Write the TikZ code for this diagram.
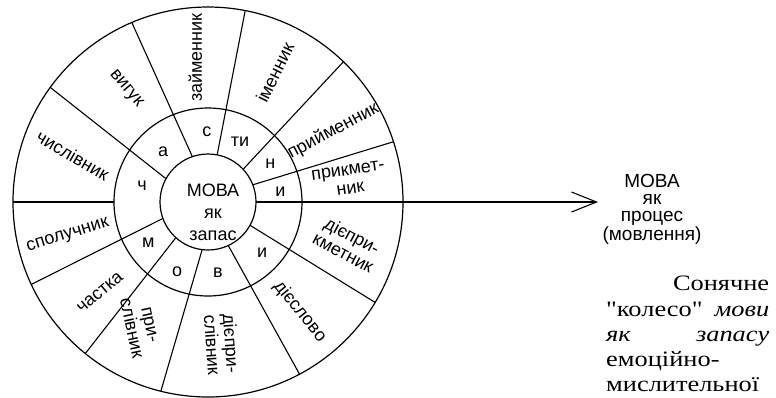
\documentclass[tikz,border=0pt]{standalone}
\usepackage{fontspec}
\setmainfont{Liberation Serif}
\newfontfamily\wheelfont{Liberation Sans}
\newfontfamily\capfont[FakeStretch=1.2]{Liberation Serif}
\usetikzlibrary{arrows.meta}
\begin{document}
\begin{tikzpicture}[x=1pt,y=1pt,
  ringline/.style={draw, circle, line width=1.2pt, inner sep=0pt, outer sep=0pt},
  spoke/.style={line width=1.1pt},
  part/.style={font=\wheelfont\fontsize{18}{19}\selectfont, inner sep=0pt, align=center},
  letter/.style={font=\wheelfont\fontsize{18}{18}\selectfont, inner sep=0pt},
  ]
\useasboundingbox (0,0) rectangle (776,-397);
\node[ringline, minimum size=390pt] (wheel) at (208,-202) {};
\node[ringline, minimum size=188pt] (mid) at (208,-202) {};
\node[ringline, minimum size=96pt] (core) at (208,-202) {};
% spokes
\foreach \a/\b in {21/18, 43/46.5, 79/79, 109/113.4, 151/144, 200.7/205.6, 228/231.5, 263/256.5, 295/298, 331/329.4}
  \draw[spoke] (core.\a) -- (wheel.\b);
\draw[spoke] (mid.180) -- (wheel.180);
\coordinate (tip) at (598,-202);
\draw[spoke, -{Straight Barb[length=25pt,width=20pt,line width=1.1pt]}] (core.0) -- (tip);
% centre text
\node[font=\wheelfont\fontsize{18}{22}\selectfont, align=center, inner sep=0pt] (coretext) at (213,-212) {МОВА\\як\\запас};
\begin{scope}[shift={(208,-202)}]
% outer ring
\node[part, rotate=90] (zaim) at (95:145) {займенник};
\node[part, rotate=64] (imen) at (62.7:146) {іменник};
\node[part, rotate=28] (pryim) at (29.6:144) {прийменник};
\node[part, rotate=8] (prykm) at (9:143) {прикмет-\\ник};
\node[part, rotate=-28] (diepk) at (-16.7:146) {дієпри-\\кметник};
\node[part, rotate=-51] (dies) at (-50:143) {дієслово};
\node[part, rotate=-86] (diepsl) at (-84.4:143) {дієпри-\\слівник};
\node[part, rotate=-78] (prysl) at (241.5:142) {при-\\слівник};
\node[part, rotate=40] (chast) at (220:141) {частка};
\node[part, rotate=17] (spol) at (193.6:144) {сполучник};
\node[part, rotate=-30] (chysl) at (161:143) {числівник};
\node[part, rotate=-50] (vyh) at (126:140) {вигук};
% inner ring
\node[letter] (l1) at (132:67) {а};
\node[letter] (l2) at (91:70) {с};
\node[letter] (l3) at (62:68) {ти};
\node[letter] (l4) at (31.5:73) {н};
\node[letter] (l5) at (8:73) {и};
\node[letter] (l6) at (-43:74) {и};
\node[letter] (l7) at (-82:71) {в};
\node[letter] (l8) at (246:76) {о};
\node[letter] (l9) at (214:72) {м};
\node[letter] (l10) at (166:68) {ч};
\end{scope}
% right side
\node[font=\wheelfont\fontsize{19}{17.3}\selectfont, align=center, inner sep=0pt] (proc) at (652,-209) {МОВА\\як\\процес\\(мовлення)};
\node[anchor=north west, text width=163pt, inner sep=0pt, align=left,
      font=\capfont\fontsize{22}{25.3}\selectfont] (caption) at (606,-276)
  {\hfill Сонячне\\
   \symbol{34}колесо\symbol{34}\hfill\textit{мови}\\
   \textit{як}\hfill\textit{запасу}\\
   емоційно-\\
   мислительної};
\end{tikzpicture}
\end{document}
